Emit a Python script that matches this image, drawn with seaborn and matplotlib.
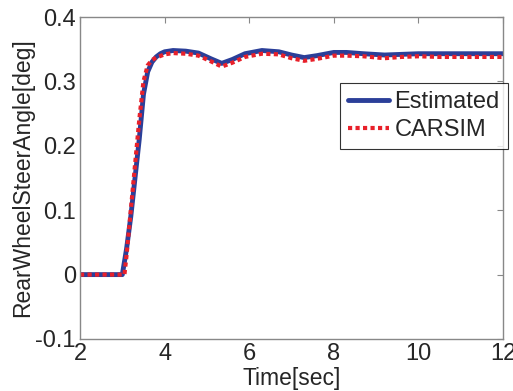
import seaborn as sns
import matplotlib.pyplot as plt
import pandas as pd

# values
t_est = [2, 3.0, 3.1, 3.2, 3.3, 3.4, 3.5, 3.6, 3.7, 3.8, 3.9, 4.0, 4.2, 4.5, 4.8, 5.1,
         5.35, 5.6, 5.9, 6.3, 6.7, 7.0, 7.3, 7.6, 8.0, 8.3, 8.7, 9.2, 9.6, 10.0, 10.5, 11, 11.5, 12]
y_est = [0, 0, 0.04, 0.09, 0.15, 0.21, 0.28, 0.315, 0.33, 0.338, 0.343, 0.346, 0.348, 0.347,
         0.344, 0.335, 0.328, 0.334, 0.343, 0.348, 0.346, 0.341, 0.337, 0.340, 0.345, 0.345,
         0.343, 0.341, 0.342, 0.343, 0.343, 0.343, 0.343, 0.343]

t_car = [2, 3.05, 3.1, 3.2, 3.3, 3.4, 3.5, 3.6, 3.7, 3.8, 4.0, 4.2, 4.5, 4.8, 5.1, 5.35,
         5.6, 5.9, 6.3, 6.7, 7.0, 7.3, 7.6, 8.0, 8.3, 8.7, 9.2, 9.6, 10.0, 10.5, 11, 11.5, 12]
y_car = [0, 0, 0.03, 0.10, 0.17, 0.24, 0.30, 0.325, 0.333, 0.337, 0.342, 0.344, 0.343, 0.340,
         0.331, 0.323, 0.329, 0.338, 0.343, 0.342, 0.336, 0.332, 0.335, 0.340, 0.340, 0.339,
         0.336, 0.338, 0.339, 0.338, 0.338, 0.338, 0.338]

df = pd.concat([
    pd.DataFrame({'t': t_est, 'y': y_est, 'src': 'Estimated'}),
    pd.DataFrame({'t': t_car, 'y': y_car, 'src': 'CARSIM'}),
])

sns.set_style('white')
plt.rcParams['font.family'] = ['Liberation Sans', 'DejaVu Sans']

fig = plt.figure(figsize=(5.13, 3.91), dpi=100)
ax = fig.add_axes([0.156, 0.133, 0.8245, 0.8235])

sns.lineplot(data=df, x='t', y='y', hue='src', style='src',
             palette={'Estimated': '#2b3f99', 'CARSIM': '#e8202a'},
             dashes={'Estimated': '', 'CARSIM': (1, 0.8)},
             ax=ax, legend=False)
for line, lw in zip(ax.lines, [3.5, 3.0]):
    line.set_linewidth(lw)

ax.set_xlim(2, 12)
ax.set_ylim(-0.1, 0.4)
ax.set_xticks([2, 4, 6, 8, 10, 12])
ax.set_yticks([-0.1, 0, 0.1, 0.2, 0.3, 0.4])
ax.set_yticklabels(['-0.1', '0', '0.1', '0.2', '0.3', '0.4'])
ax.tick_params(direction='in', length=4, color='#888888', labelsize=17,
               top=True, right=True, pad=3)
for s in ax.spines.values():
    s.set_color('#888888')
    s.set_linewidth(1)
ax.set_xlabel('Time[sec]', fontsize=16.5, labelpad=1)
ax.set_ylabel('RearWheelSteerAngle[deg]', fontsize=16.5, labelpad=1)

leg = ax.legend(ax.lines, ['Estimated', 'CARSIM'], loc='upper left',
                bbox_to_anchor=(0.615, 0.795), fontsize=17, frameon=True,
                fancybox=False, handlelength=1.7, handletextpad=0.25,
                borderpad=0.35, labelspacing=0.25, borderaxespad=0)
leg.get_frame().set_edgecolor('black')
leg.get_frame().set_linewidth(0.8)

fig.savefig('out.png', dpi=100)
